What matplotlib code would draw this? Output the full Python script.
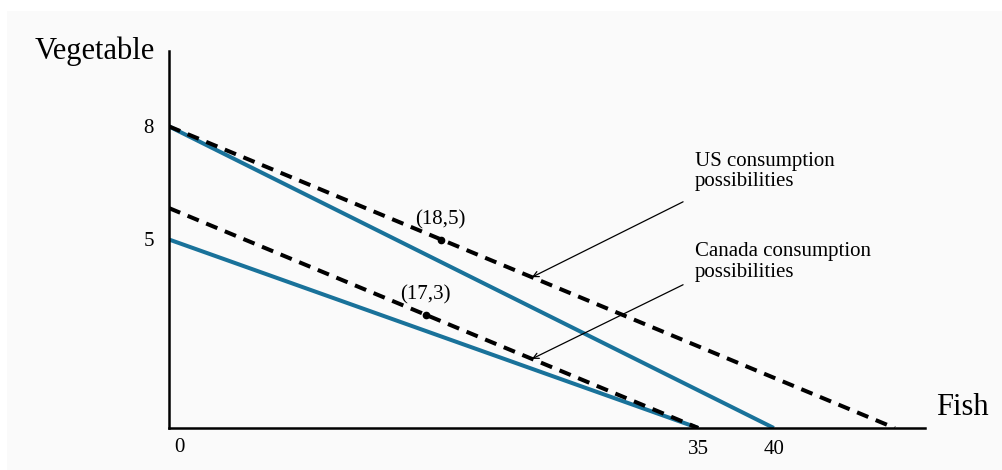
import matplotlib
matplotlib.use('Agg')
import matplotlib.pyplot as plt
from matplotlib.patches import Rectangle

# production possibility frontiers (solid) and consumption possibilities (dashed)
us_ppf_x = [0, 40]
us_ppf_y = [8, 0]
ca_ppf_x = [0, 35]
ca_ppf_y = [5, 0]
us_cons_x = [0, 48]
us_cons_y = [8, 0]
ca_cons_x = [0, 35]
ca_cons_y = [35 / 6, 0]

points_x = [18, 17]
points_y = [5, 3]
point_labels = ["(18,5)", "(17,3)"]

xticks = [35, 40]
yticks = [5, 8]

BLUE = '#19729a'
plt.rcParams['font.family'] = ['Liberation Serif', 'DejaVu Serif']

fig = plt.figure(figsize=(10.03, 4.70), dpi=100, facecolor='white')
fig.patches.append(Rectangle((7 / 1003, 0), 1, 1 - 11 / 470, transform=fig.transFigure,
                             facecolor='#fafafa', edgecolor='none', zorder=-10))

ax = fig.add_axes([169 / 1003, 42 / 470, 756 / 1003, 377 / 470])
ax.set_facecolor('none')
ax.set_xlim(0, 50)
ax.set_ylim(0, 10)

ax.plot(us_ppf_x, us_ppf_y, color=BLUE, lw=2.9, solid_capstyle='butt', zorder=2)
ax.plot(ca_ppf_x, ca_ppf_y, color=BLUE, lw=2.9, solid_capstyle='butt', zorder=2)
ax.plot(us_cons_x, us_cons_y, color='black', lw=2.9, dashes=(3, 2), zorder=3)
ax.plot(ca_cons_x, ca_cons_y, color='black', lw=2.9, dashes=(3, 2), zorder=3)

ax.plot(points_x, points_y, 'o', color='black', ms=4.5, zorder=4)
for px, py, lab in zip(points_x, points_y, point_labels):
    ax.annotate(lab, (px, py), xytext=(-18.5, 14.5), textcoords='offset points',
                fontsize=15, ha='left', va='center')

# callouts
ax.annotate("US consumption\npossibilities", xy=(24, 4), xytext=(34.8, 6.8),
            fontsize=15, ha='left', va='center', linespacing=1.12)
ax.annotate("", xy=(24, 4.0), xytext=(34, 6.0),
            arrowprops=dict(arrowstyle='->', color='black', lw=0.9, shrinkA=0, shrinkB=0))
ax.annotate("Canada consumption\npossibilities", xy=(24, 2), xytext=(34.8, 4.4),
            fontsize=15, ha='left', va='center', linespacing=1.12)
ax.annotate("", xy=(24, 11 / 6), xytext=(34, 3.8),
            arrowprops=dict(arrowstyle='->', color='black', lw=0.9, shrinkA=0, shrinkB=0))

for s in ['top', 'right']:
    ax.spines[s].set_visible(False)
for s in ['left', 'bottom']:
    ax.spines[s].set_linewidth(1.8)

ax.set_xticks(xticks)
ax.set_xticklabels([str(t) for t in xticks], fontsize=15)
ax.set_yticks(yticks)
ax.set_yticklabels([str(t) for t in yticks], fontsize=15)
ax.tick_params(axis='both', length=0)
ax.tick_params(axis='x', pad=8.5)
ax.tick_params(axis='y', pad=11)

ax.text(0.7, -0.52, "0", fontsize=15, ha='center', va='center', transform=ax.transData, clip_on=False)
ax.text(-0.098, 1.0, "Vegetable", fontsize=22, ha='center', va='center', transform=ax.transAxes)
ax.text(1.015, 0.055, "Fish", fontsize=22, ha='left', va='center', transform=ax.transAxes)

plt.savefig('out.png', dpi=100, facecolor=fig.get_facecolor())
